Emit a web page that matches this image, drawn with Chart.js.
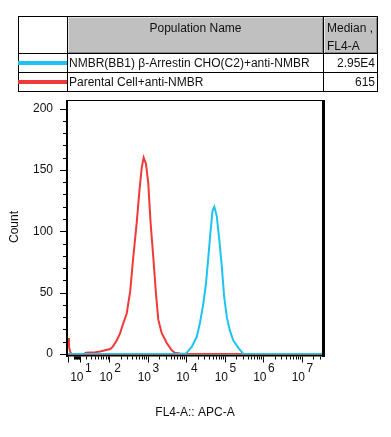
<!DOCTYPE html>
<html><head><meta charset="utf-8">
<script src="https://cdn.jsdelivr.net/npm/chart.js@4.4.1/dist/chart.umd.min.js"></script>
<style>
html,body{margin:0;padding:0;background:#fff;width:391px;height:437px;overflow:hidden;font-family:"Liberation Sans",Arial,sans-serif;color:#111;}
#c{position:absolute;left:0;top:0;}
.a{position:absolute;box-sizing:border-box;}
.t{position:absolute;font-size:12px;line-height:14px;white-space:nowrap;}
</style></head>
<body>
<canvas id="c" width="391" height="437"></canvas>
<div id="tbl"></div>
<script>
// ---- data ----
const seriesNames = ["NMBR(BB1) \u03B2-Arrestin CHO(C2)+anti-NMBR", "Parental Cell+anti-NMBR"];
const medianHeader = ["Median ,", "FL4-A"];
const medians = ["2.95E4", "615"];
const seriesColors = ["#1ec3f2", "#f03a3a"];
// x positions in display decades (log-like axis), counts per bin
const bluePos   = [0.935, 3.97, 4.02, 4.15, 4.28, 4.36, 4.45, 4.52, 4.58, 4.64, 4.69, 4.735, 4.80, 4.865, 4.93, 4.99, 5.06, 5.14, 5.23, 5.36, 5.49, 7.532];
const blueCount = [0,     0,    1,    6,    14,   25,   41,   58,   79,   101,  117,  120,   112,  93,    71,   47,   30,   19,   11,   5,    0,    0];
const redPos    = [0.935, 0.96, 1.0, 1.04, 1.35, 1.40, 1.64, 1.77, 1.90, 2.03, 2.10, 2.20, 2.29, 2.37, 2.46, 2.55, 2.63, 2.72, 2.79, 2.85, 2.90, 2.96, 3.02, 3.08, 3.15, 3.22, 3.28, 3.37, 3.50, 3.63, 3.71, 3.84, 4.0, 7.532];
const redCount  = [13,    6,    1,   0,    0,    1,    1.5,  2,    3,    4,    6,    11,   17,   25,   33,   51,   79,   107,  133,  152,  160,  155,  139,  107,  79,   49,   28,   17,   9,    3,    1,    0.4,  0,   0];
const yTickValues = [0, 50, 100, 150, 200];
const yMinorStep = 10;
const xTickExponents = [1, 2, 3, 4, 5, 6, 7];
const xTitle = "FL4-A:: APC-A";
const yTitle = "Count";

// biexponential-like display transform of the x axis
const BIEX_C = 11.6;
function toDisplay(v){ return Math.log10(v/2 + Math.sqrt(v*v/4 + BIEX_C*BIEX_C)); }

// ---- table (legend) ----
const tbl = document.getElementById('tbl');
function box(l,t,w,h,style){const d=document.createElement('div');d.className='a';Object.assign(d.style,{left:l+'px',top:t+'px',width:w+'px',height:h+'px'},style||{});tbl.appendChild(d);return d;}
function txt(s,l,t,w,align){const d=document.createElement('div');d.className='t';d.textContent=s;Object.assign(d.style,{left:l+'px',top:t+'px'});if(w){d.style.width=w+'px';d.style.textAlign=align||'left';}tbl.appendChild(d);return d;}
box(68,17,255,36,{background:'#c0c0c0',border:'1px solid #e6e6e6',borderRightColor:'#8a8a8a',borderBottomColor:'#8a8a8a'});
box(324,17,53,36,{background:'#c0c0c0',border:'1px solid #e6e6e6',borderRightColor:'#8a8a8a',borderBottomColor:'#8a8a8a'});
box(18,16,360,76,{border:'1px solid #000'});
box(67,16,1,76,{background:'#000'});
box(323,16,1,76,{background:'#000'});
box(18,53,360,1,{background:'#000'});
box(18,72,360,1,{background:'#000'});
txt("Population Name",68,21,255,'center');
txt(medianHeader[0],327,21);
txt(medianHeader[1],327,39);
const rowCenters=[63,82];
seriesNames.forEach((name,i)=>{
  const yc=rowCenters[i];
  box(18,yc-2,49,3.5,{background:seriesColors[i]});
  txt(name,69,yc-7);
  txt(medians[i],324,yc-7,51,'right');
});

// ---- chart ----
const FONT = {family:'"Liberation Sans", Arial, sans-serif', size:12};
const INK = '#111';
const framePlugin = {
  id:'frame',
  afterDatasetsDraw(chart){
    const {ctx, chartArea:a, scales:{x:xs,y:ys}} = chart;
    ctx.save();
    ctx.strokeStyle='#000';
    // frame
    ctx.lineWidth=1; ctx.beginPath(); ctx.moveTo(a.left-1,a.top+0.5); ctx.lineTo(a.right+3,a.top+0.5); ctx.stroke();
    ctx.lineWidth=2; ctx.beginPath(); ctx.moveTo(a.left-1,a.top); ctx.lineTo(a.left-1,a.bottom+3); ctx.stroke();
    ctx.lineWidth=2; ctx.beginPath(); ctx.moveTo(a.left-2,a.bottom+1.5); ctx.lineTo(a.right+3,a.bottom+1.5); ctx.stroke();
    ctx.lineWidth=3; ctx.beginPath(); ctx.moveTo(a.right+1.5,a.top); ctx.lineTo(a.right+1.5,a.bottom+3); ctx.stroke();
    // y ticks
    ctx.lineWidth=1;
    for(let v=0; v<=ys.max; v+=yMinorStep){
      const py=Math.round(ys.getPixelForValue(v))+0.5;
      const major = yTickValues.includes(v);
      ctx.beginPath(); ctx.moveTo(a.left-2,py); ctx.lineTo(a.left-(major?8:5),py); ctx.stroke();
    }
    // x ticks
    const y0=a.bottom+2.5;
    const drawX=(u,len)=>{ if(u<xs.min-1e-9||u>xs.max+1e-9) return; const px=Math.round(xs.getPixelForValue(u))+0.5; ctx.beginPath(); ctx.moveTo(px,y0); ctx.lineTo(px,y0+len); ctx.stroke(); };
    drawX(xs.min,6);
    for(let n=0;n<=7;n++){
      for(let m=1;m<=9;m++){
        const v=m*Math.pow(10,n);
        drawX(toDisplay(v), m===1 && n>=1 ? 6 : 3);
      }
    }
    // x tick labels (10 with exponent)
    ctx.fillStyle=INK; ctx.textBaseline='middle';
    ctx.font='12px "Liberation Sans", Arial, sans-serif';
    xTickExponents.forEach(n=>{
      const px=xs.getPixelForValue(toDisplay(Math.pow(10,n)));
      ctx.textAlign='right'; ctx.fillText('10',px+3.5,378);
      ctx.textAlign='left'; ctx.fillText(String(n),px+5,369);
    });
    ctx.restore();
  }
};

const toPts=(xs,ys)=>xs.map((x,i)=>({x:x,y:ys[i]}));
new Chart(document.getElementById('c'),{
  type:'line',
  data:{datasets:[
    {label:seriesNames[0],data:toPts(bluePos,blueCount),borderColor:seriesColors[0],borderWidth:2,pointRadius:0,fill:false,tension:0},
    {label:seriesNames[1],data:toPts(redPos,redCount),borderColor:seriesColors[1],borderWidth:2,pointRadius:0,fill:false,tension:0}
  ]},
  options:{
    responsive:false, animation:false, devicePixelRatio:1,
    layout:{padding:{top:100,right:69,left:0,bottom:0}},
    plugins:{legend:{display:false},tooltip:{enabled:false}},
    scales:{
      x:{type:'linear',min:0.935,max:7.532,
        grid:{display:false,drawTicks:false},border:{display:false},
        ticks:{display:false},
        title:{display:true,text:xTitle,font:FONT,color:INK,padding:{top:0,bottom:17}},
        afterFit(s){s.height=83;}},
      y:{min:0,max:207,
        grid:{display:false,drawTicks:false},border:{display:false},
        afterBuildTicks(s){s.ticks=yTickValues.map(v=>({value:v}));},
        ticks:{font:FONT,color:INK,padding:15},
        title:{display:true,text:yTitle,font:FONT,color:INK,padding:{top:7,bottom:0}},
        afterFit(s){s.width=68;}}
    }
  },
  plugins:[framePlugin]
});
</script>
</body></html>
